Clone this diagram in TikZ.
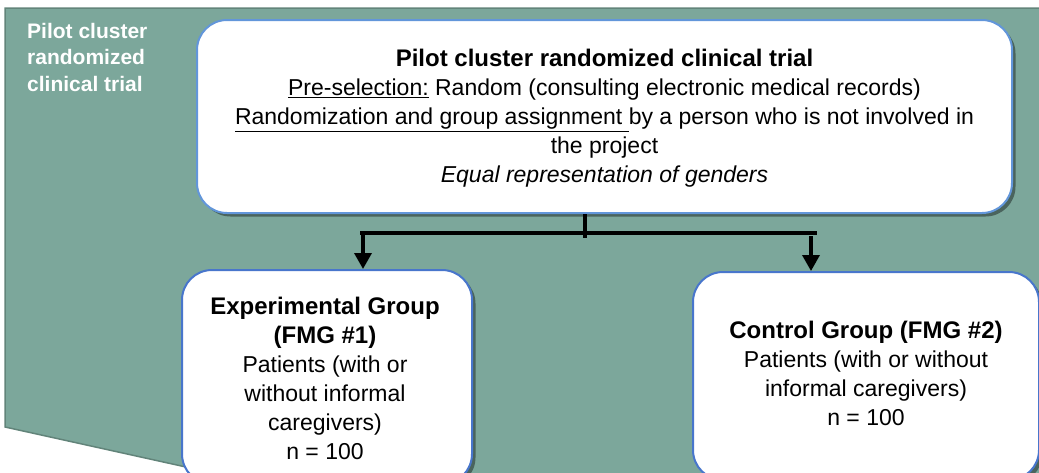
\documentclass[tikz,border=0pt]{standalone}
\usepackage{fontspec}
\setmainfont{Liberation Sans}
\usetikzlibrary{arrows.meta,shadows}

\definecolor{panelgreen}{RGB}{124,167,155}
\definecolor{paneledge}{RGB}{98,132,122}
\definecolor{topedge}{RGB}{98,150,218}
\definecolor{groupedge}{RGB}{72,118,204}

\newcommand{\headfont}{\fontsize{24}{29}\selectfont\bfseries}

\tikzset{
  panel/.style={fill=panelgreen, draw=paneledge, line width=1.5pt},
  roundbox/.style={fill=white, rounded corners=30pt, line width=2pt, inner sep=0pt,
    drop shadow={shadow xshift=3.5pt, shadow yshift=-3.5pt, fill=black, opacity=0.4}},
  bodytext/.style={align=center, inner sep=0pt, font=\fontsize{23}{29}\selectfont},
  conn/.style={line width=3.5pt, draw=black},
  arr/.style={conn, -{Triangle[width=17pt,length=16pt]}},
  sidelabel/.style={align=left, inner sep=0pt, text=white,
    font=\fontsize{21}{26.5}\selectfont\bfseries},
}

\begin{document}
\begin{tikzpicture}[x=1pt, y=-1pt]
\useasboundingbox (0,0) rectangle (1039,472);

% green panel behind the diagram
\draw[panel] (5,8) -- (1050,8) -- (1050,490) -- (290,490) -- (5,427) -- cycle;

\node[sidelabel, anchor=north west] (side) at (27,23)
  {Pilot cluster\\randomized\\clinical trial};

% trial box
\node[roundbox, draw=topedge, minimum width=815pt, minimum height=193pt] (top) at (604.5,116.5) {};
\node[bodytext] (toptext) at (604.5,118.5)
  {{\headfont Pilot cluster randomized clinical trial}\\
   \underline{Pre-selection:} Random (consulting electronic medical records)\\
   \underline{Randomization and group assignment\ }by a person who is not involved in\\
   the project\\
   \textit{Equal representation of genders}};

% group boxes
\node[roundbox, draw=groupedge, minimum width=290pt, minimum height=214pt] (exp) at (327,377) {};
\node[bodytext] (exptext) at (325,378)
  {{\headfont Experimental Group}\\
   {\headfont (FMG \#1)}\\
   Patients (with or\\
   without informal\\
   caregivers)\\
   n = 100};

\node[roundbox, draw=groupedge, minimum width=346pt, minimum height=208pt] (ctl) at (866,376) {};
\node[bodytext] (ctltext) at (866,373)
  {{\headfont Control Group (FMG \#2)}\\
   Patients (with or without\\
   informal caregivers)\\
   n = 100};

% split connector
\coordinate (tick) at (585,238);
\coordinate (hl) at (360,233);
\coordinate (hr) at (817,233);
\coordinate (la) at (363,233);
\coordinate (ra) at (811,236);
\draw[conn] (top.south -| tick) -- (tick);
\draw[conn] (hl) -- (hr);
\draw[arr] (la) -- (la |- exp.north);
\draw[arr] (ra) -- (ra |- ctl.north);
\end{tikzpicture}
\end{document}
